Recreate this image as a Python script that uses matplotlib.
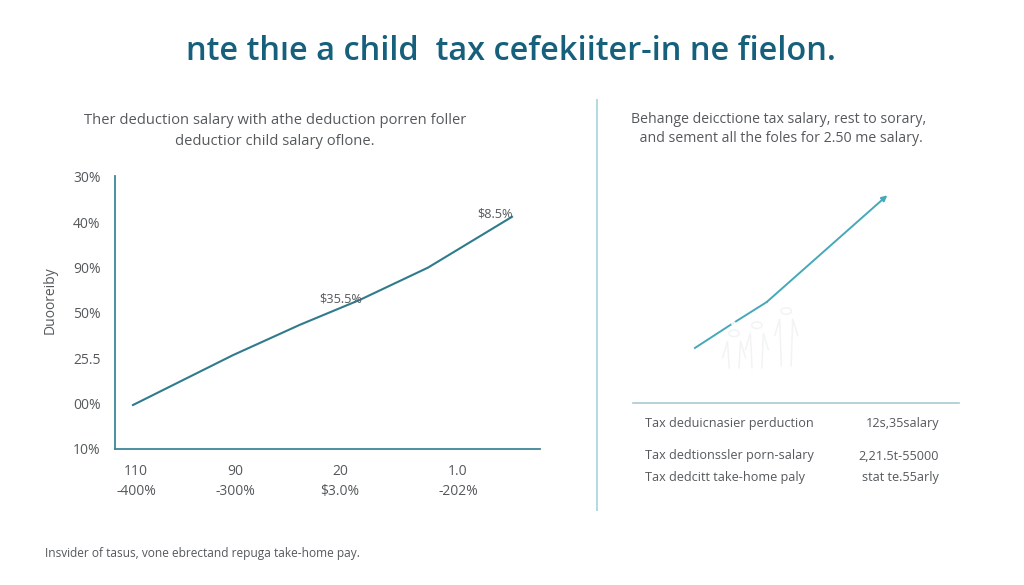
import numpy as np
import matplotlib
matplotlib.use('Agg')
import matplotlib.pyplot as plt
from matplotlib.patches import Circle

plt.rcParams['font.family'] = ['Open Sans', 'DejaVu Sans']

title = 'nte th\u0131e a child  tax cefekiiter-in ne fielon.'
left_sub = 'Ther deduction salary with athe deduction porren foller\ndeductior child salary oflone.'
right_sub = 'Behange deicctione tax salary, rest to sorary,\n and sement all the foles for 2.50 me salary.'
footer = 'Insvider of tasus, vone ebrectand repuga take-home pay.'

# left chart
y_ticks = ['10%', '00%', '25.5', '50%', '90%', '40%', '30%']
x_ticks = ['110\n-400%', '90\n-300%', '20\n$3.0%', '1.0\n-202%']
x_tick_pos = [0, 0.99, 2.04, 3.22]
line_x = [-0.03, 0.97, 1.64, 2.24, 2.92, 3.76]
line_y = [0.97, 2.07, 2.74, 3.29, 4.0, 5.12]
notes = ['$35.5%', '$8.5%']
note_x = [2.05, 3.59]
note_y = [3.31, 5.18]

# right chart
right_x = [19, 30.7, 41, 78]
right_y = [14.8, 27, 37.4, 90]
rows = ['Tax deduicnasier perduction', 'Tax dedtionssler porn-salary', 'Tax dedcitt take-home paly']
row_vals = ['12s,35salary', '2,21.5t-55000', 'stat te.55arly']

DARK = '#2f7b8c'
AXIS = '#3f8796'
GREY = '#55595c'
W, H = 1024, 585


def px_axes(fig, x0, y0, x1, y1):
    # pixel box, y from the top
    return fig.add_axes([x0 / W, 1 - y1 / H, (x1 - x0) / W, (y1 - y0) / H])


def px_text(fig, x, y, s, **kw):
    kw.setdefault('color', GREY)
    kw.setdefault('va', 'center')
    fig.text(x / W, 1 - y / H, s, **kw)


fig = plt.figure(figsize=(W / 100, H / 100), dpi=100, facecolor='white')

px_text(fig, 511, 52, title, ha='center', fontsize=23.4, fontweight='semibold', color='#17607c')
px_text(fig, 275, 131, left_sub, ha='center', fontsize=10.6, linespacing=1.6)
px_text(fig, 779, 129, right_sub, ha='center', fontsize=10.2, linespacing=1.45)
px_text(fig, 45, 553, footer, ha='left', fontsize=8.6)

# left line chart
ax = px_axes(fig, 114.5, 176, 540, 449)
ax.plot(line_x, line_y, color=DARK, lw=1.5)
ax.set_xlim(-0.215, 4.04)
ax.set_ylim(0, 6.02)
ax.set_yticks(np.arange(len(y_ticks)))
ax.set_yticklabels(y_ticks, fontsize=10, color=GREY)
ax.set_xticks(x_tick_pos)
ax.set_xticklabels(x_ticks, fontsize=10, color=GREY, linespacing=1.45)
ax.tick_params(length=0)
ax.tick_params(axis='y', pad=10)
ax.tick_params(axis='x', pad=11)
for s in ['top', 'right']:
    ax.spines[s].set_visible(False)
for s in ['left', 'bottom']:
    ax.spines[s].set_color(AXIS)
    ax.spines[s].set_linewidth(1.3)
for n, nx, ny in zip(notes, note_x, note_y):
    ax.text(nx, ny, n, ha='center', va='center', fontsize=9.2, color=GREY)
px_text(fig, 50, 300, 'Duooreiby', ha='center', rotation=90, fontsize=10)

# divider between the panels
fig.add_artist(plt.Line2D([597 / W, 597 / W], [1 - 100 / H, 1 - 510 / H], color='#b4d9e1', lw=1.4))

# right arrow chart
ax2 = px_axes(fig, 633, 175, 959, 378)
ax2.set_xlim(0, 100)
ax2.set_ylim(0, 100)
ax2.axis('off')

# faint family figure behind the line
for cx, top, foot in [(31, 22, 5), (38, 26, 5), (47, 33, 6)]:
    ax2.add_patch(Circle((cx, top), 1.6, fill=False, ec='#f2f4f4', lw=1.1))
    ax2.plot([cx - 3.5, cx - 2, cx - 1.5], [top - 12, top - 4, foot], color='#f2f4f4', lw=1.1)
    ax2.plot([cx + 3.5, cx + 2, cx + 1.5], [top - 12, top - 4, foot], color='#f2f4f4', lw=1.1)

ax2.plot(right_x[:-1], right_y[:-1], color='#46a9b8', lw=1.4)
ax2.plot(right_x[1], right_y[1], 'o', color='white', ms=2.5, alpha=0.8)
ax2.annotate('', xy=(right_x[-1], right_y[-1]), xytext=(right_x[-2], right_y[-2]),
             arrowprops=dict(arrowstyle='-|>', color='#46a9b8', lw=1.4, mutation_scale=8,
                             shrinkA=0, shrinkB=0))

# small table below
fig.add_artist(plt.Line2D([633 / W, 959 / W], [1 - 403 / H, 1 - 403 / H], color='#a9c9d2', lw=1.2))
for r, v, yy in zip(rows, row_vals, [423, 456, 477]):
    px_text(fig, 645, yy, r, ha='left', fontsize=9.1)
    px_text(fig, 939, yy, v, ha='right', fontsize=9.1)

fig.savefig('out.png', dpi=100)
